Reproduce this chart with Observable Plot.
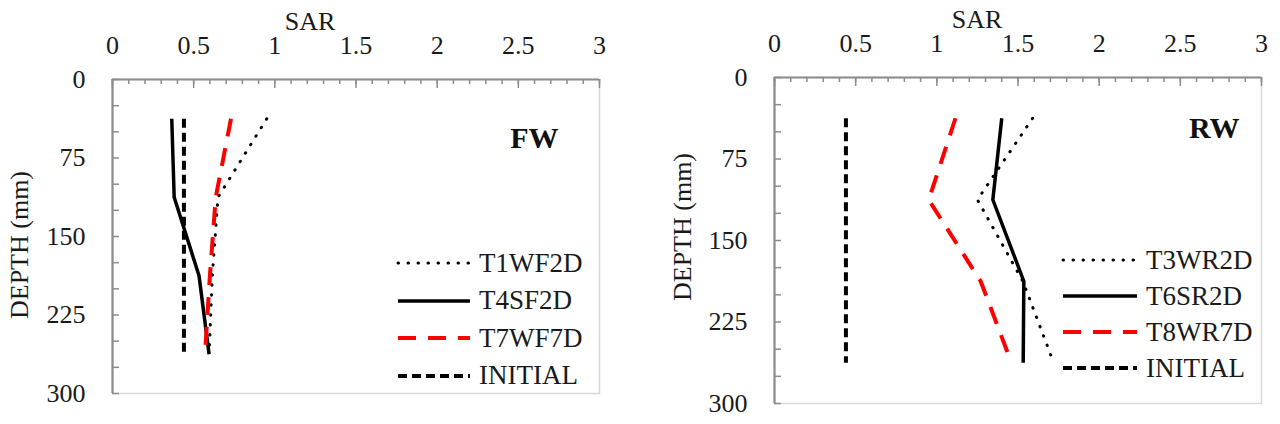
<!DOCTYPE html>
<html><head><meta charset="utf-8">
<script src="https://cdn.jsdelivr.net/npm/d3@7"></script>
<script src="https://cdn.jsdelivr.net/npm/@observablehq/plot@0.6"></script>
<style>
body{margin:0;background:#fff;font-family:"Liberation Serif",serif;}
#wrap{position:relative;width:1280px;height:424px;overflow:hidden;background:#fff}
.panel{position:absolute;top:0;width:640px;height:424px}
.lbl{position:absolute;font-size:26px;color:#1a1a1a;white-space:nowrap;line-height:1}
.leg{position:absolute;height:30px;display:flex;align-items:center;font-size:27px;color:#1a1a1a;white-space:nowrap}
.leg svg{display:block;margin-right:7px}
</style></head><body><div id="wrap"></div>
<script>
// ---- data ----
const depths = [37.5, 112.5, 187.5, 262.5];
const xTickLabels = [0, 0.5, 1, 1.5, 2, 2.5, 3];
const yTickLabels = [0, 75, 150, 225, 300];
const xMinorTicks = d3.range(0, 31).map(i => i / 10);
const yMinorTicks = d3.range(0, 13).map(i => i * 25);

const fwNames = ["T1WF2D", "T4SF2D", "T7WF7D", "INITIAL"];
const fwT1WF2D = [0.95, 0.65, 0.615, 0.595];
const fwT4SF2D = [0.365, 0.38, 0.533, 0.595];
const fwT7WF7D = [0.73, 0.636, 0.60, 0.57];
const fwINITIAL = [0.44, 0.44, 0.44, 0.44];

const rwNames = ["T3WR2D", "T6SR2D", "T8WR7D", "INITIAL"];
const rwT3WR2D = [1.59, 1.25, 1.53, 1.72];
const rwT6SR2D = [1.40, 1.345, 1.536, 1.532];
const rwT8WR7D = [1.115, 0.95, 1.27, 1.46];
const rwINITIAL = [0.44, 0.44, 0.44, 0.44];

// ---- styles ----
const styles = [
  {stroke: "#000", strokeWidth: 3, strokeDasharray: "0.5 9.5", strokeLinecap: "round"},
  {stroke: "#000", strokeWidth: 3.5, strokeDasharray: null, strokeLinecap: "butt"},
  {stroke: "#ff0000", strokeWidth: 4, strokeDasharray: "18 12", strokeLinecap: "butt"},
  {stroke: "#000", strokeWidth: 4, strokeDasharray: "9 5", strokeLinecap: "butt"}
];

const wrap = document.getElementById("wrap");
const FONT = "Liberation Serif";

function panel(cfg) {
  const W = 640, H = 424;
  const innerW = W - cfg.ml - cfg.mr, innerH = H - cfg.mt - cfg.mb;
  const seriesMarks = cfg.names.map((name, k) => {
    const rows = cfg.values[k].map((v, i) => ({series: name, sar: v, depth: depths[i]}));
    const s = styles[k];
    return Plot.line(rows, {x: "sar", y: "depth", stroke: s.stroke, strokeWidth: s.strokeWidth,
      strokeDasharray: s.strokeDasharray, strokeLinecap: s.strokeLinecap, strokeLinejoin: "round"});
  });
  const axisCol = "#8c8c8c";
  const plot = Plot.plot({
    width: W, height: H,
    marginLeft: cfg.ml, marginRight: cfg.mr, marginTop: cfg.mt, marginBottom: cfg.mb,
    style: {fontFamily: FONT, fontSize: "26px", color: "#1a1a1a", background: "transparent"},
    x: {domain: [0, 3]},
    y: {domain: [0, 300], reverse: true},
    marks: [
      Plot.frame({stroke: "#d9d9d9", strokeWidth: 1.5}),
      Plot.ruleX(xMinorTicks, {x: d => d, stroke: axisCol, strokeWidth: 1.5, insetBottom: innerH - 5}),
      Plot.ruleX(xTickLabels, {x: d => d, stroke: axisCol, strokeWidth: 1.5, insetBottom: innerH - 9}),
      Plot.ruleY(yMinorTicks, {y: d => d, stroke: axisCol, strokeWidth: 1.5, insetRight: innerW - 7}),
      Plot.ruleX([0], {stroke: axisCol, strokeWidth: 2.2}),
      Plot.ruleY([0], {stroke: axisCol, strokeWidth: 2.2}),
      Plot.axisX({anchor: "top", ticks: xTickLabels, tickSize: 0, tickPadding: cfg.xPad, tickFormat: d => String(d), label: null, fontSize: 26}),
      Plot.axisY({anchor: "left", ticks: yTickLabels, tickSize: 0, tickPadding: 27, tickFormat: d => String(d), label: null, fontSize: 26}),
      ...seriesMarks,
      Plot.text([cfg.title], {text: d => d, frameAnchor: "top-right", dx: cfg.tdx, dy: cfg.tdy,
        fontWeight: "bold", fontSize: 30, fontFamily: FONT, fill: "#111", textAnchor: "end", lineAnchor: "middle"})
    ]
  });
  const div = document.createElement("div");
  div.className = "panel";
  div.style.left = cfg.left + "px";
  div.appendChild(plot);
  wrap.appendChild(div);

  // axis titles
  const sar = document.createElement("div");
  sar.className = "lbl"; sar.textContent = "SAR";
  sar.style.left = (cfg.left + cfg.sarX) + "px"; sar.style.top = cfg.sarY + "px";
  sar.style.transform = "translate(-50%,-50%)";
  wrap.appendChild(sar);
  const dep = document.createElement("div");
  dep.className = "lbl"; dep.textContent = "DEPTH (mm)";
  dep.style.left = (cfg.left + cfg.depX) + "px"; dep.style.top = cfg.depY + "px";
  dep.style.transform = "translate(-50%,-50%) rotate(-90deg)";
  wrap.appendChild(dep);

  // legend
  cfg.names.forEach((name, k) => {
    const s = styles[k];
    const row = document.createElement("div");
    row.className = "leg";
    row.style.left = (cfg.left + cfg.legX) + "px";
    row.style.top = (cfg.legY + k * cfg.legStep - 15) + "px";
    const svg = d3.create("svg").attr("width", cfg.legW).attr("height", 10);
    svg.append("line").attr("x1", 2).attr("x2", cfg.legW - 2).attr("y1", 5).attr("y2", 5)
      .attr("stroke", s.stroke).attr("stroke-width", s.strokeWidth)
      .attr("stroke-dasharray", s.strokeDasharray).attr("stroke-linecap", s.strokeLinecap);
    row.appendChild(svg.node());
    const t = document.createElement("span"); t.textContent = name;
    row.appendChild(t);
    wrap.appendChild(row);
  });
}

panel({left: 0, ml: 112, mr: 41, mt: 79, mb: 31, xPad: 26,
  names: fwNames, values: [fwT1WF2D, fwT4SF2D, fwT7WF7D, fwINITIAL],
  title: "FW", tdx: -41, tdy: 59,
  sarX: 310, sarY: 22, depX: 20, depY: 245,
  legX: 396, legY: 263, legStep: 37.5, legW: 76});
panel({left: 640, ml: 134, mr: 19, mt: 77, mb: 21, xPad: 26,
  names: rwNames, values: [rwT3WR2D, rwT6SR2D, rwT8WR7D, rwINITIAL],
  title: "RW", tdx: -22, tdy: 51,
  sarX: 337, sarY: 20, depX: 43, depY: 227,
  legX: 421, legY: 260, legStep: 36, legW: 78});
</script></body></html>
